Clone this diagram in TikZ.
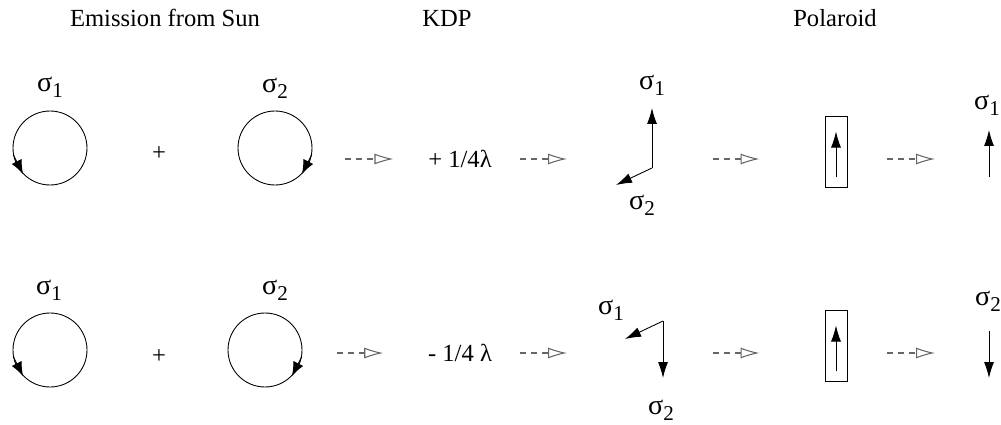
\documentclass[tikz,border=0pt]{standalone}
\usepackage{fontspec}
\setmainfont{Liberation Serif}
\usetikzlibrary{arrows.meta}
\newcommand{\sig}[1]{{\fontsize{16}{16}\selectfont σ}\raisebox{-0.55ex}{\fontsize{12}{12}\selectfont #1}}

\begin{document}
\begin{tikzpicture}[
  x=0.2mm, y=-0.2mm,
  font=\fontsize{14}{16}\selectfont,
  beam/.style={draw,circle,minimum size=14.8mm,inner sep=0pt,line width=0.5pt},
  spin/.style={-{Latex[length=2.8mm,width=2.2mm]},line width=0.5pt},
  vec/.style={-{Latex[length=3.2mm,width=2mm]},line width=0.5pt},
  flow/.style={gray!80!black,line width=0.6pt,dash pattern=on 1.2mm off 1mm,-{Latex[open,length=3.8mm,width=2.2mm]}},
  txt/.style={inner sep=0pt},
  filter/.style={draw,minimum width=4.4mm,minimum height=14.2mm,inner sep=0pt,line width=0.5pt}
]
\useasboundingbox (0,0) rectangle (1001,425);

% headings
\node[txt] (hSun) at (165,18) {Emission from Sun};
\node[txt] (hKdp) at (447,18) {KDP};
\node[txt] (hPol) at (835,18) {Polaroid};

% row 1
\node[beam] (sunA1) at (50,148) {};
\node[beam] (sunA2) at (275,148) {};
\node[txt] (sA1) at (50,87) {\sig1};
\node[txt] (sA2) at (275,88) {\sig2};
\node[txt] (plusA) at (159,154) {+};
\draw[spin] (sunA1.190) -- (sunA1.224);
\draw[spin] (sunA2.350) -- (sunA2.316);
\node[txt] (kdpA) at (460,159) {+ 1/4λ};
\coordinate (kA) at (652,168);
\coordinate (kA1) at (652,108);
\coordinate (kA2) at (616,185);
\draw[vec] (kA) -- (kA1);
\draw[vec] (kA) -- (kA2);
\node[txt] (kA1l) at (652,85) {\sig1};
\node[txt] (kA2l) at (642,205) {\sig2};
\node[filter] (polA) at (836,152) {};
\draw[vec] ([yshift=2.1mm]polA.south) -- ([yshift=-3.1mm]polA.north);
\coordinate (outA) at (989,177);
\coordinate (outA1) at (989,130);
\draw[vec] (outA) -- (outA1);
\node[txt] (oA1l) at (987,105) {\sig1};
\draw[flow,shorten <=6.6mm,shorten >=6.9mm] (sunA2.east |- kdpA) -- (kdpA.west);
\draw[flow,shorten <=5.5mm,shorten >=9.8mm] (kdpA.east) -- (kdpA -| kA2);
\draw[flow,shorten <=12.2mm,shorten >=13mm] (kA |- kdpA) -- (polA.west |- kdpA);
\draw[flow,shorten <=8mm,shorten >=10.8mm] (polA.east |- kdpA) -- (outA |- kdpA);

% row 2
\node[beam] (sunB1) at (50,350) {};
\node[beam] (sunB2) at (265,350) {};
\node[txt] (sB1) at (49,290) {\sig1};
\node[txt] (sB2) at (275,290) {\sig2};
\node[txt] (plusB) at (159,357) {+};
\draw[spin] (sunB1.190) -- (sunB1.224);
\draw[spin] (sunB2.350) -- (sunB2.316);
\node[txt] (kdpB) at (460,353) {- 1/4 λ};
\coordinate (kB) at (663,321);
\coordinate (kB1) at (625,339);
\coordinate (kB2) at (663,378);
\draw[vec] (kB) -- (kB1);
\draw[vec] (kB) -- (kB2);
\node[txt] (kB1l) at (611,310) {\sig1};
\node[txt] (kB2l) at (661,410) {\sig2};
\node[filter] (polB) at (836,346) {};
\draw[vec] ([yshift=2.1mm]polB.south) -- ([yshift=-3.1mm]polB.north);
\coordinate (outB) at (989,331);
\coordinate (outB2) at (989,378);
\draw[vec] (outB) -- (outB2);
\node[txt] (oB2l) at (988,301) {\sig2};
\draw[flow,shorten <=7mm,shorten >=8.9mm] (sunB2.east |- kdpB) -- (kdpB.west);
\draw[flow,shorten <=5.5mm,shorten >=11.6mm] (kdpB.east) -- (kdpB -| kB1);
\draw[flow,shorten <=10mm,shorten >=13mm] (kB |- kdpB) -- (polB.west |- kdpB);
\draw[flow,shorten <=8mm,shorten >=10.8mm] (polB.east |- kdpB) -- (outB |- kdpB);
\end{tikzpicture}
\end{document}
